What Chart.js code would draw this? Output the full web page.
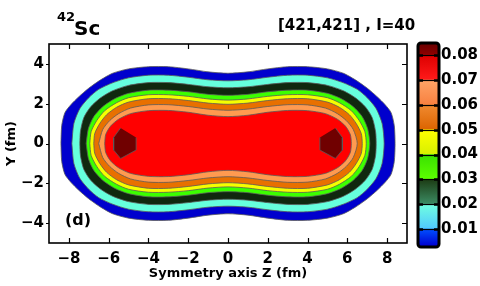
<!DOCTYPE html>
<html>
<head>
<meta charset="utf-8">
<script src="https://cdn.jsdelivr.net/npm/chart.js@4.4.1/dist/chart.umd.min.js"></script>
<style>
  html, body { margin: 0; padding: 0; background: #fff; }
  #wrap { position: relative; width: 480px; height: 286px; font-family: "DejaVu Sans", sans-serif; font-weight: bold; color: #000; }
  #mainBox { position: absolute; left: 0; top: 0; width: 480px; height: 286px; }
  #barBox { position: absolute; left: 410px; top: 0; width: 70px; height: 286px; }
  .lbl { position: absolute; white-space: nowrap; line-height: 1; }
</style>
</head>
<body>
<div id="wrap">
  <div id="mainBox"><canvas id="contourChart"></canvas></div>
  <div id="barBox"><canvas id="colorbarChart"></canvas></div>
  <div class="lbl" style="left:57px; top:10px; font-size:13px">42</div>
  <div class="lbl" style="left:74px; top:17.5px; font-size:20px">Sc</div>
  <div class="lbl" style="left:278px; top:18px; font-size:15px">[421,421] , I=40</div>
  <div class="lbl" style="left:65px; top:212px; font-size:16px">(d)</div>
</div>
<script>
/* ---------------------------
   DATA
---------------------------*/
const zTicks = [-8, -6, -4, -2, 0, 2, 4, 6, 8];
const yTicks = [-4, -2, 0, 2, 4];
const cbTicks = [0.01, 0.02, 0.03, 0.04, 0.05, 0.06, 0.07, 0.08];
const cbEdges = [0.0032, 0.01, 0.02, 0.03, 0.04, 0.05, 0.06, 0.07, 0.08, 0.0845];

// contour outlines, upper-right quarter (z >= 0, y >= 0), mirrored in code
const rim003 = [[0, 3.53], [1, 3.6], [2, 3.75], [3, 3.86], [4, 3.86], [5, 3.75], [5.8, 3.53], [6.4, 3.2], [7, 2.78], [7.5, 2.35], [7.9, 1.95], [8.2, 1.55], [8.36, 0.9], [8.4, 0]];
const rim01 = [[0, 3.15], [1, 3.2], [2, 3.33], [3, 3.43], [4, 3.43], [5, 3.3], [5.8, 3.05], [6.5, 2.72], [7.0, 2.3], [7.45, 1.75], [7.75, 1.0], [7.85, 0]];
const rim02 = [[0, 2.8], [1, 2.85], [2, 2.97], [3, 3.06], [4, 3.06], [5, 2.92], [5.8, 2.65], [6.4, 2.3], [6.9, 1.85], [7.25, 1.3], [7.42, 0.6], [7.45, 0]];
const rim03 = [[0, 2.42], [1, 2.47], [2, 2.6], [3, 2.68], [4, 2.68], [5, 2.52], [5.7, 2.25], [6.3, 1.85], [6.75, 1.35], [7.02, 0.75], [7.13, 0]];
const rim04 = [[0, 2.18], [1, 2.24], [2, 2.37], [3, 2.45], [4, 2.45], [5, 2.3], [5.6, 2.05], [6.2, 1.65], [6.6, 1.15], [6.88, 0.6], [6.95, 0]];
const rim05 = [[0, 1.97], [1, 2.03], [2, 2.16], [3, 2.25], [4, 2.25], [5, 2.08], [5.6, 1.82], [6.1, 1.45], [6.45, 1.0], [6.7, 0.5], [6.75, 0]];
const rim06 = [[0, 1.67], [1, 1.73], [2, 1.86], [3, 1.95], [4, 1.94], [4.9, 1.78], [5.5, 1.5], [5.95, 1.15], [6.3, 0.7], [6.5, 0]];
const rim07 = [[0, 1.35], [1, 1.42], [2, 1.57], [3, 1.66], [4, 1.65], [4.9, 1.5], [5.5, 1.22], [5.9, 0.88], [6.15, 0.45], [6.2, 0]];
// 0.08 peak, right side (left one is its mirror)
const peak08 = [[5.4, 0.78], [5.75, 0.3], [5.75, -0.33], [5.4, -0.75], [4.62, -0.33], [4.62, 0.3]];

/* ---------------------------
   STYLES
---------------------------*/
const bandColors = ['#0000cd', '#66ffdd', '#10280f', '#3cff00', '#f5ff00', '#e87000', '#ff9a50', '#ff0000', '#700000'];
const cbTopColors = ['#0050ff', '#70ffe0', '#1c3c14', '#3ae000', '#ffff00', '#f08a30', '#ffa466', '#dd0000', '#6a0000'];
const cbBottomColors = ['#0000d0', '#50c8ff', '#3c8c64', '#5cff00', '#d8f000', '#dc6400', '#f88040', '#ff1a1a', '#900000'];
const lineGray = '#5a5a5a';

Chart.defaults.font.family = '"DejaVu Sans", sans-serif';
Chart.defaults.font.weight = 'bold';
Chart.defaults.color = '#000';

/* ---------------------------
   HELPERS
---------------------------*/
function ring(quarter) {
    const pts = [];
    for (let i = quarter.length - 1; i > 0; i--) pts.push({ x: -quarter[i][0], y: quarter[i][1] });
    for (let i = 0; i < quarter.length; i++) pts.push({ x: quarter[i][0], y: quarter[i][1] });
    for (let i = quarter.length - 2; i > 0; i--) pts.push({ x: quarter[i][0], y: -quarter[i][1] });
    for (let i = 0; i < quarter.length; i++) pts.push({ x: -quarter[i][0], y: -quarter[i][1] });
    return pts;
}

function contourSet(points, color, order, tension) {
    return {
        data: points,
        showLine: true,
        fill: 'shape',
        backgroundColor: color,
        borderColor: lineGray,
        borderWidth: 0.8,
        pointRadius: 0,
        tension: tension,
        order: order
    };
}

const minus = v => (v < 0 ? '\u2212' + Math.abs(v) : String(v));

/* ---------------------------
   FRAME + INWARD TICKS
---------------------------*/
const frameTicks = {
    id: 'frameTicks',
    afterDraw(chart) {
        const { ctx, chartArea: a, scales: { x, y } } = chart;
        ctx.save();
        ctx.strokeStyle = '#000';
        ctx.lineWidth = 1.2;
        ctx.beginPath();
        zTicks.forEach(v => {
            const px = Math.round(x.getPixelForValue(v)) + 0.5;
            ctx.moveTo(px, a.bottom); ctx.lineTo(px, a.bottom - 5);
            ctx.moveTo(px, a.top); ctx.lineTo(px, a.top + 5);
        });
        yTicks.forEach(v => {
            const py = Math.round(y.getPixelForValue(v)) + 0.5;
            ctx.moveTo(a.left - 3, py); ctx.lineTo(a.left, py);
            ctx.moveTo(a.right, py); ctx.lineTo(a.right - 5, py);
        });
        ctx.stroke();
        ctx.lineWidth = 1.6;
        ctx.strokeRect(a.left, a.top, a.right - a.left, a.bottom - a.top);
        ctx.restore();
    }
};

/* ---------------------------
   CONTOUR CHART
---------------------------*/
const rims = [rim003, rim01, rim02, rim03, rim04, rim05, rim06, rim07];
const datasets = rims.map((r, i) => contourSet(ring(r), bandColors[i], 20 - i, 0.25));
datasets.push(contourSet(peak08.map(p => ({ x: p[0], y: p[1] })), bandColors[8], 1, 0));
datasets.push(contourSet(peak08.map(p => ({ x: -p[0], y: p[1] })), bandColors[8], 1, 0));

new Chart(document.getElementById('contourChart'), {
    type: 'scatter',
    data: { datasets: datasets },
    options: {
        responsive: true,
        maintainAspectRatio: false,
        animation: false,
        layout: { padding: { left: 0, top: 44, right: 73, bottom: 0 } },
        plugins: { legend: { display: false }, tooltip: { enabled: false } },
        scales: {
            x: {
                type: 'linear', min: -9, max: 9,
                afterBuildTicks: s => { s.ticks = zTicks.map(v => ({ value: v })); },
                afterFit: s => { s.height = 43; },
                grid: { display: false, drawTicks: false },
                border: { display: false },
                ticks: { callback: minus, font: { size: 15 }, padding: 7, maxRotation: 0 },
                title: { display: true, text: 'Symmetry axis Z (fm)', font: { size: 13 }, padding: 5 }
            },
            y: {
                type: 'linear', min: -5, max: 5,
                afterBuildTicks: s => { s.ticks = yTicks.map(v => ({ value: v })); },
                afterFit: s => { s.width = 49; },
                grid: { display: false, drawTicks: false },
                border: { display: false },
                ticks: { callback: minus, font: { size: 15 }, padding: 5 },
                title: { display: true, text: 'Y (fm)', font: { size: 13 }, padding: 4 }
            }
        }
    },
    plugins: [frameTicks]
});

/* ---------------------------
   COLORBAR
---------------------------*/
function bandFill(context, i) {
    const { ctx, chartArea, scales } = context.chart;
    if (!chartArea) return cbTopColors[i];
    const yTop = scales.y.getPixelForValue(cbEdges[i + 1]);
    const yBot = scales.y.getPixelForValue(cbEdges[i]);
    const g = ctx.createLinearGradient(0, yTop, 0, yBot);
    g.addColorStop(0, cbTopColors[i]);
    g.addColorStop(1, cbBottomColors[i]);
    return g;
}

const colorbarFrame = {
    id: 'colorbarFrame',
    afterDraw(chart) {
        const { ctx, chartArea: a, scales: { y } } = chart;
        ctx.save();
        ctx.strokeStyle = '#000';
        cbTicks.forEach(v => {
            const py = Math.round(y.getPixelForValue(v)) + 0.5;
            ctx.lineWidth = 1.2;
            ctx.beginPath();
            ctx.moveTo(a.left, py); ctx.lineTo(a.right, py);
            ctx.stroke();
            ctx.lineWidth = 2.5;
            ctx.beginPath();
            ctx.moveTo(a.left, py); ctx.lineTo(a.left + 4, py);
            ctx.moveTo(a.right, py); ctx.lineTo(a.right - 4, py);
            ctx.stroke();
        });
        ctx.lineWidth = 3;
        ctx.beginPath();
        ctx.roundRect(a.left - 1, a.top - 1, a.right - a.left + 2, a.bottom - a.top + 2, 3);
        ctx.stroke();
        ctx.restore();
    }
};

new Chart(document.getElementById('colorbarChart'), {
    type: 'bar',
    data: {
        labels: [''],
        datasets: cbEdges.slice(0, -1).map((lo, i) => ({
            data: [[lo, cbEdges[i + 1]]],
            backgroundColor: c => bandFill(c, i),
            borderWidth: 0,
            barPercentage: 1,
            categoryPercentage: 1,
            grouped: false
        }))
    },
    options: {
        responsive: true,
        maintainAspectRatio: false,
        animation: false,
        layout: { padding: { left: 9, top: 44, right: 0, bottom: 40 } },
        plugins: { legend: { display: false }, tooltip: { enabled: false } },
        scales: {
            x: { display: false },
            y: {
                position: 'right',
                min: cbEdges[0], max: cbEdges[cbEdges.length - 1],
                afterBuildTicks: s => { s.ticks = cbTicks.map(v => ({ value: v })); },
                afterFit: s => { s.width = 42; },
                grid: { display: false, drawTicks: false },
                border: { display: false },
                ticks: { callback: v => v.toFixed(2), font: { size: 15 }, padding: 3 }
            }
        }
    },
    plugins: [colorbarFrame]
});
</script>
</body>
</html>
